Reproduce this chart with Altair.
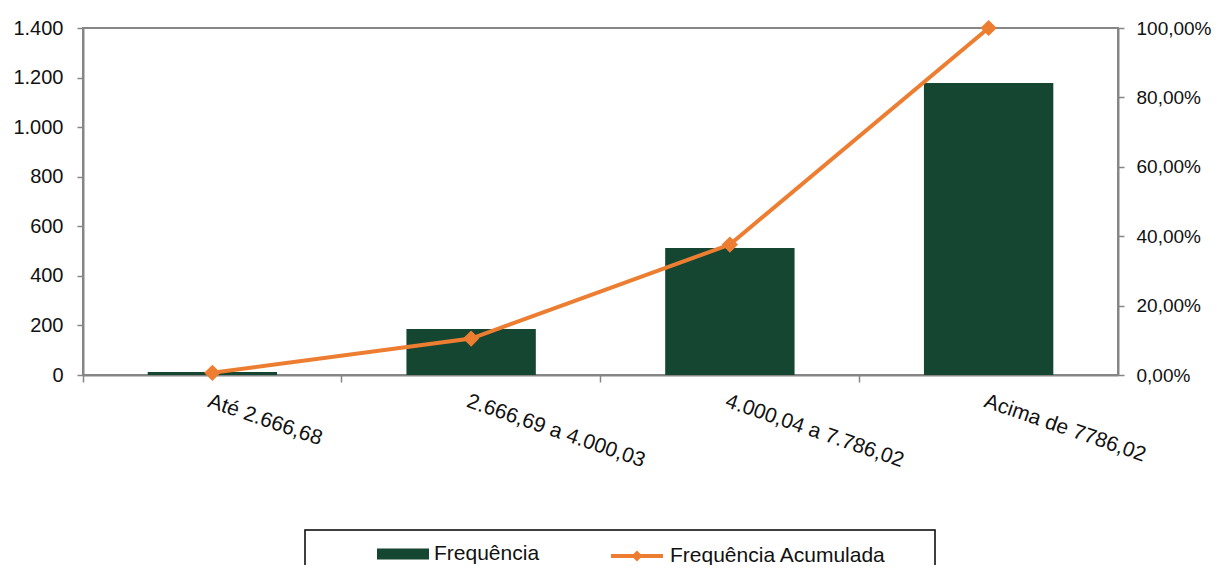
import altair as alt
import pandas as pd

faixas = ["Até 2.666,68", "2.666,69 a 4.000,03", "4.000,04 a 7.786,02", "Acima de 7786,02"]
frequencia = [12, 186, 512, 1178]
acumulada = [0.0064, 0.105, 0.376, 1.0]
left_ticks = [0, 200, 400, 600, 800, 1000, 1200, 1400]
right_ticks = [0, 0.2, 0.4, 0.6, 0.8, 1.0]
serie_barra = ["Frequência"]
serie_linha = ["Frequência Acumulada"]

GREEN = "#144632"
ORANGE = "#ED7D31"
GRAY = "#868686"
FONT = "Liberation Sans"

df = pd.DataFrame({"faixa": faixas, "freq": frequencia, "acum": acumulada})

common_legend = dict(orient="none", legendY=500, direction="horizontal", title=None,
                     labelFont=FONT, labelFontSize=21, labelColor="#111111",
                     symbolSize=2704, padding=0, labelLimit=400)

legend_bar = alt.Legend(legendX=294, symbolType="M-1,-0.21H1V0.21H-1Z", labelOffset=5,
                        symbolFillColor=GREEN, symbolStrokeWidth=0, **common_legend)
legend_line = alt.Legend(legendX=526, symbolType="M-1,0H1M-0.1,0L0,-0.1L0.1,0L0,0.1Z",
                         labelOffset=5, symbolFillColor=ORANGE, symbolStrokeColor=ORANGE,
                         symbolStrokeWidth=4, **common_legend)

x_enc = alt.X("faixa:N", sort=faixas, title=None,
              scale=alt.Scale(paddingInner=0, paddingOuter=0),
              axis=alt.Axis(bandPosition=0, labelAngle=19, labelAlign="left",
                            labelBaseline="top", labelOffset=0, labelPadding=8,
                            labelFont=FONT, labelFontSize=21, labelColor="#111111",
                            domainColor=GRAY, domainWidth=2, tickColor=GRAY,
                            tickWidth=1.5, tickSize=7, grid=False, labelLimit=400))

bars = alt.Chart(df).transform_calculate(serie="'Frequência'").mark_bar(
    width=alt.RelativeBandSize(0.5)
).encode(
    x=x_enc,
    y=alt.Y("freq:Q", title=None,
            scale=alt.Scale(domain=[0, 1400], nice=False),
            axis=alt.Axis(values=left_ticks, orient="left",
                          labelExpr="replace(format(datum.value, ','), ',', '.')",
                          labelFont=FONT, labelFontSize=20, labelColor="#111111",
                          labelPadding=14, tickSize=6, tickColor=GRAY, tickWidth=1.5,
                          domainColor=GRAY, domainWidth=2, grid=False)),
    color=alt.Color("serie:N", scale=alt.Scale(domain=serie_barra, range=[GREEN]),
                    legend=legend_bar),
)

line = alt.Chart(df).transform_calculate(serie="'Frequência Acumulada'").mark_line(
    strokeWidth=4,
    point=alt.OverlayMarkDef(shape="diamond", size=180, filled=True, color=ORANGE),
).encode(
    x=alt.X("faixa:N", sort=faixas),
    y=alt.Y("acum:Q", title=None,
            scale=alt.Scale(domain=[0, 1], nice=False),
            axis=alt.Axis(values=right_ticks, orient="right",
                          labelExpr="replace(format(datum.value, '.2%'), '.', ',')",
                          labelFont=FONT, labelFontSize=19, labelColor="#111111",
                          labelPadding=12, tickSize=6, tickColor=GRAY, tickWidth=1.5,
                          domainColor=GRAY, domainWidth=2, grid=False)),
    stroke=alt.Stroke("serie:N", scale=alt.Scale(domain=serie_linha, range=[ORANGE]),
                      legend=legend_line),
)

frame = alt.Chart(alt.Data(values=[{"k": 1}])).mark_rect(
    fillOpacity=0, stroke="#000000", strokeWidth=1.5
).encode(
    x=alt.value(222), x2=alt.value(852), y=alt.value(502), y2=alt.value(580)
)

chart = alt.layer(bars, line, frame).resolve_scale(y="independent").properties(
    width=1035, height=347,
    autosize=alt.AutoSizeParams(type="none"),
    padding={"left": 75, "top": 20, "right": 94, "bottom": 190},
).configure_view(stroke=GRAY, strokeWidth=2)

chart.save("out.html", embed_options={"renderer": "svg", "actions": False})
